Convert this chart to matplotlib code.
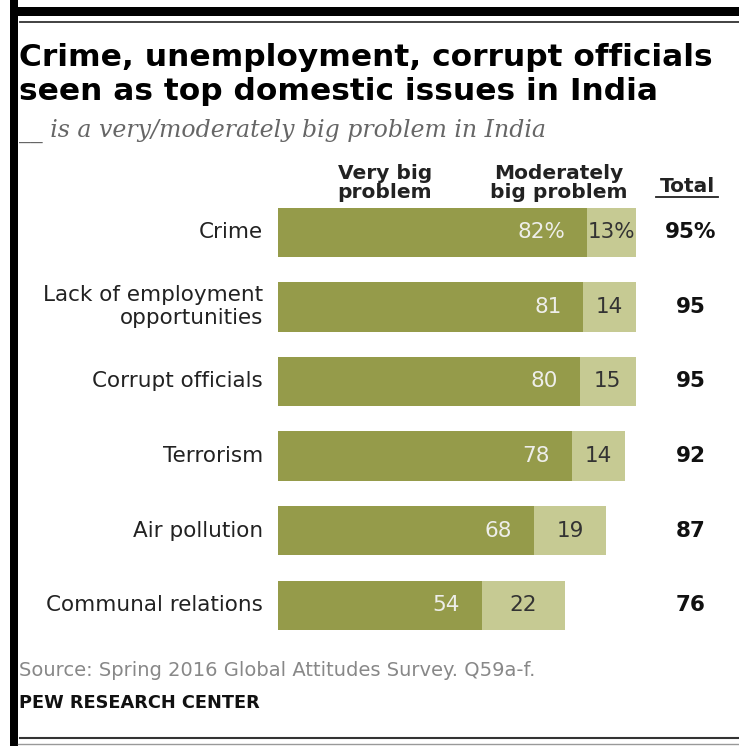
import matplotlib
matplotlib.use('Agg')
import matplotlib.pyplot as plt
from matplotlib.patches import Rectangle
from matplotlib.lines import Line2D

ISSUES = ['Crime', 'Lack of employment\nopportunities', 'Corrupt officials',
          'Terrorism', 'Air pollution', 'Communal relations']
VERY_BIG = [82, 81, 80, 78, 68, 54]
MODERATE = [13, 14, 15, 14, 19, 22]
TOTAL = [95, 95, 95, 92, 87, 76]

DARK = '#959b4a'
LIGHT = '#c6ca93'
W, H = 739, 746

fig = plt.figure(figsize=(W / 100, H / 100), dpi=100)
fig.patch.set_facecolor('white')


def fx(px):
    return px / W


def fy(py):
    return 1 - py / H


# frame: black top/left bars, thin rules
fig.add_artist(Rectangle((fx(10), fy(746)), fx(8), 746 / H, transform=fig.transFigure,
                         color='black', lw=0))
fig.add_artist(Rectangle((fx(10), fy(16)), 1, 9 / H, transform=fig.transFigure,
                         color='black', lw=0))
fig.add_artist(Line2D([fx(20), 1], [fy(22), fy(22)], transform=fig.transFigure,
                      color='#333333', lw=1.3))
fig.add_artist(Line2D([fx(20), 1], [fy(738), fy(738)], transform=fig.transFigure,
                      color='#333333', lw=1.5))
fig.add_artist(Line2D([fx(18), 1], [fy(744), fy(744)], transform=fig.transFigure,
                      color='#999999', lw=1.0))

# titles
fig.text(fx(19), fy(57), 'Crime, unemployment, corrupt officials', fontsize=22.5,
         fontweight='bold', va='center', ha='left', family='DejaVu Sans')
fig.text(fx(19), fy(92), 'seen as top domestic issues in India', fontsize=22.5,
         fontweight='bold', va='center', ha='left', family='DejaVu Sans')
fig.text(fx(19), fy(131), '__ is a very/moderately big problem in India', fontsize=17,
         style='italic', color='#666666', va='center', ha='left', family='DejaVu Serif')

# bars
n = len(ISSUES)
ax = fig.add_axes([fx(278), fy(195 + 74.6 * n), fx(3.77 * 100), 74.6 * n / H])
ys = list(range(n))
ax.barh(ys, VERY_BIG, height=0.66, color=DARK, lw=0)
ax.barh(ys, MODERATE, left=VERY_BIG, height=0.66, color=LIGHT, lw=0)
ax.set_xlim(0, 100)
ax.set_ylim(n - 0.5, -0.5)
ax.axis('off')

for i in ys:
    sfx = '%' if i == 0 else ''
    ax.text(VERY_BIG[i] - 5.8, i, f'{VERY_BIG[i]}{sfx}', ha='right', va='center',
            color='#eeeeea', fontsize=15.5)
    ax.text(VERY_BIG[i] + MODERATE[i] / 2, i, f'{MODERATE[i]}{sfx}', ha='center',
            va='center', color='#333333', fontsize=15.5)
    ax.text(-4, i, ISSUES[i], ha='right', va='center', fontsize=15.5,
            color='#222222', linespacing=1.2)
    ax.text(109.5, i, f'{TOTAL[i]}{sfx}', ha='center', va='center', fontsize=15.5,
            fontweight='bold', color='#111111')

# column headers
fig.text(fx(385), fy(183), 'Very big\nproblem', ha='center', va='center', fontsize=14.5,
         fontweight='bold', color='#222222', linespacing=0.95)
fig.text(fx(559), fy(183), 'Moderately\nbig problem', ha='center', va='center',
         fontsize=14.5, fontweight='bold', color='#222222', linespacing=0.95)
fig.text(fx(687), fy(187), 'Total', ha='center', va='center', fontsize=14.5,
         fontweight='bold', color='#222222')
fig.add_artist(Line2D([fx(656), fx(718)], [fy(197), fy(197)], transform=fig.transFigure,
                      color='#222222', lw=1.3))

# footer
fig.text(fx(19), fy(671), 'Source: Spring 2016 Global Attitudes Survey. Q59a-f.',
         fontsize=14, color='#888888', va='center', ha='left')
fig.text(fx(19), fy(703), 'PEW RESEARCH CENTER', fontsize=12.8, fontweight='bold',
         color='#111111', va='center', ha='left')

fig.savefig('out.png', dpi=100)
